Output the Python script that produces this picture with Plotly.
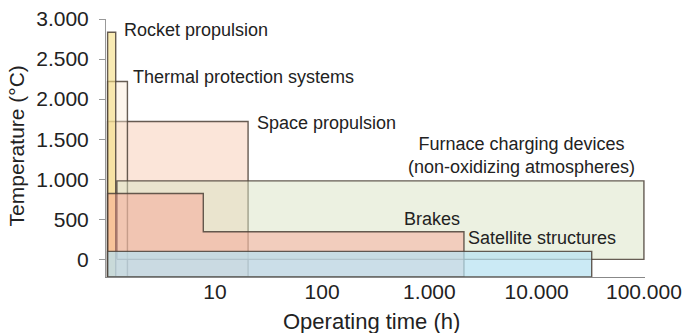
import math
import plotly.graph_objects as go

# ---- data ----
labels = ["Rocket propulsion", "Thermal protection systems", "Space propulsion",
          "Furnace charging devices<br>(non-oxidizing atmospheres)", "Brakes", "Satellite structures"]
# rectangular regions: operating time (h) and temperature (°C)
rect_names = ["Space propulsion", "Thermal protection systems", "Rocket propulsion",
              "Furnace charging devices"]
rect_x0 = [1.0, 1.0, 1.0, 1.22]
rect_x1 = [20.4, 1.53, 1.19, 100000]
rect_y0 = [-220, -220, -220, 0]
rect_y1 = [1720, 2220, 2835, 980]
rect_fill = ["rgba(248,208,185,0.55)", "rgba(250,235,215,0.45)",
             "rgba(245,222,130,0.6)", "rgba(218,228,195,0.5)"]

# brakes: step-shaped region
brakes_x = [1.0, 7.8, 2100]
brakes_top = [822, 345]
brakes_bottom = -220

# satellite structures
sat_x = [1.0, 32600]
sat_y = [-220, 100]

# label anchor positions (data coordinates)
label_x = [1.37, 1.66, 23.5, 7180, 557, 2190]
label_y = [2866, 2277, 1702, 1300, 501, 266]
label_anchor = ["left", "left", "left", "center", "left", "left"]

y_ticks = [0, 500, 1000, 1500, 2000, 2500, 3000]
y_ticktext = ["0", "500", "1.000", "1.500", "2.000", "2.500", "3.000"]
x_ticks = [10, 100, 1000, 10000, 100000]
x_ticktext = ["10", "100", "1.000", "10.000", "100.000"]

EDGE = "rgba(75,65,55,0.85)"
FONT = "Liberation Sans, Arial, sans-serif"

fig = go.Figure()

def add_poly(xs, ys, fill):
    fig.add_trace(go.Scatter(x=xs, y=ys, mode="lines", fill="toself",
                             fillcolor=fill, line=dict(color=EDGE, width=1.4),
                             hoverinfo="skip", showlegend=False))

for x0, x1, y0, y1, fc in zip(rect_x0, rect_x1, rect_y0, rect_y1, rect_fill):
    add_poly([x0, x1, x1, x0, x0], [y0, y0, y1, y1, y0], fc)

bx = [brakes_x[0], brakes_x[0], brakes_x[1], brakes_x[1], brakes_x[2], brakes_x[2], brakes_x[0]]
by = [brakes_bottom, brakes_top[0], brakes_top[0], brakes_top[1], brakes_top[1], brakes_bottom, brakes_bottom]
add_poly(bx, by, "rgba(250,155,140,0.42)")

add_poly([sat_x[0], sat_x[1], sat_x[1], sat_x[0], sat_x[0]],
         [sat_y[0], sat_y[0], sat_y[1], sat_y[1], sat_y[0]], "rgba(183,226,241,0.72)")

for t, x, y, a in zip(labels, label_x, label_y, label_anchor):
    fig.add_annotation(x=math.log10(x), y=y, xref="x", yref="y", text=t, showarrow=False,
                       xanchor=a, yanchor="middle", align="center",
                       font=dict(family=FONT, size=18, color="#222"))

# axis titles
fig.add_annotation(x=0.4935, y=-0.174, xref="paper", yref="paper", text="Operating time (h)",
                   showarrow=False, xanchor="center", yanchor="middle",
                   font=dict(family=FONT, size=22, color="#222"))
fig.add_annotation(x=-0.167, y=0.51, xref="paper", yref="paper", text="Temperature (°C)",
                   showarrow=False, xanchor="center", yanchor="middle", textangle=-90,
                   font=dict(family=FONT, size=21, color="#222"))

fig.update_xaxes(type="log", range=[-0.015, 5.01], tickvals=x_ticks, ticktext=x_ticktext,
                 showgrid=False, zeroline=False, showline=True, linecolor="#888", linewidth=1,
                 ticks="", tickfont=dict(family=FONT, size=21, color="#222"),
                 ticklabelstandoff=-4, automargin=False)
fig.update_yaxes(range=[-220, 3000], tickvals=y_ticks, ticktext=y_ticktext,
                 showgrid=False, zeroline=False, showline=True, linecolor="#999", linewidth=1,
                 ticks="outside", ticklen=6, tickcolor="#999",
                 tickfont=dict(family=FONT, size=21, color="#222"), ticklabelstandoff=6,
                 automargin=False)

fig.update_layout(width=689, height=333, margin=dict(l=106, r=44, t=19, b=56),
                  paper_bgcolor="white", plot_bgcolor="white", showlegend=False)

fig.write_html("out.html")
